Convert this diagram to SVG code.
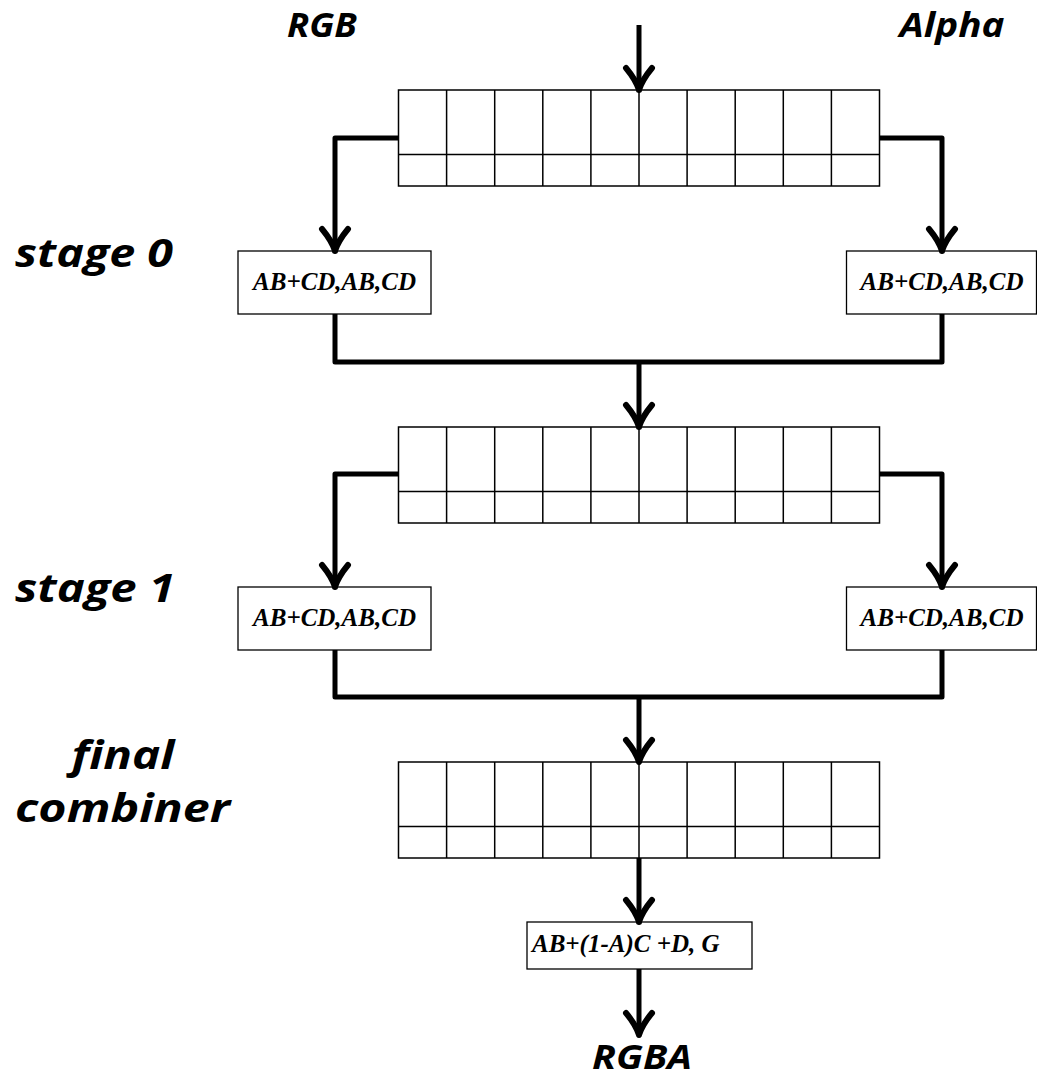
<svg xmlns="http://www.w3.org/2000/svg" width="1037" height="1080" viewBox="0 0 1037 1080">
<style>
.lbl{font-family:"Open Sans","Noto Sans","DejaVu Sans",sans-serif;font-weight:bold;font-style:italic;fill:#000;text-anchor:middle}
.big{font-size:40px}
.mid{font-size:34px}
.ftx{font-family:"Liberation Serif","Times New Roman",serif;font-weight:bold;font-style:italic;font-size:25px;fill:#000}
.box{fill:#fff;stroke:#000;stroke-width:1.3}
.grid{fill:none;stroke:#000;stroke-width:1.5}
.wire{fill:none;stroke:#000;stroke-width:5;stroke-linejoin:round}
.arr{marker-end:url(#head)}
</style>
<defs>
<marker id="head" markerUnits="userSpaceOnUse" viewBox="-28 -18 32 36" refX="0" refY="0" markerWidth="32" markerHeight="36" orient="auto" overflow="visible">
<path d="M-22,-13 Q-10,-3 0,0 M-22,13 Q-10,3 0,0" fill="none" stroke="#000" stroke-width="6" stroke-linecap="round"/>
<path d="M-12,-6 Q-4,-1.5 1,0 Q-4,1.5 -12,6 Z" fill="#000"/>
</marker>
<g id="reg">
<rect class="grid" x="0" y="0" width="481" height="96" fill="#fff"/>
<path class="grid" d="M0,64.5 H481 M48.1,0 V96 M96.2,0 V96 M144.3,0 V96 M192.4,0 V96 M240.5,0 V96 M288.6,0 V96 M336.7,0 V96 M384.8,0 V96 M432.9,0 V96"/>
</g>
</defs>

<g id="labels">
<text class="lbl mid" x="322" y="37" textLength="70" lengthAdjust="spacingAndGlyphs">RGB</text>
<text class="lbl mid" x="952" y="37" textLength="105" lengthAdjust="spacingAndGlyphs">Alpha</text>
<text class="lbl big" x="94" y="267" textLength="158" lengthAdjust="spacingAndGlyphs">stage 0</text>
<text class="lbl big" x="95" y="602" textLength="160" lengthAdjust="spacingAndGlyphs">stage 1</text>
<text class="lbl big" x="123" y="769" textLength="103" lengthAdjust="spacingAndGlyphs">final</text>
<text class="lbl big" x="122.5" y="822" textLength="215" lengthAdjust="spacingAndGlyphs">combiner</text>
<text class="lbl mid" x="642" y="1069" textLength="100" lengthAdjust="spacingAndGlyphs">RGBA</text>
</g>

<g id="register0"><use href="#reg" x="398.5" y="90"/></g>
<g id="register1"><use href="#reg" x="398.5" y="427"/></g>
<g id="register2"><use href="#reg" x="398.5" y="762"/></g>

<g id="stage0-rgb"><rect class="box" x="238" y="251" width="193" height="63"/><text class="ftx" x="334.5" y="290" text-anchor="middle">AB+CD,AB,CD</text></g>
<g id="stage0-alpha"><rect class="box" x="846.5" y="251" width="190" height="63"/><text class="ftx" x="942" y="290" text-anchor="middle">AB+CD,AB,CD</text></g>
<g id="stage1-rgb"><rect class="box" x="238" y="587" width="193" height="63"/><text class="ftx" x="334.5" y="626" text-anchor="middle">AB+CD,AB,CD</text></g>
<g id="stage1-alpha"><rect class="box" x="846.5" y="587" width="190" height="63"/><text class="ftx" x="942" y="626" text-anchor="middle">AB+CD,AB,CD</text></g>
<g id="final"><rect class="box" x="527" y="922" width="225" height="47"/><text class="ftx" x="532" y="952">AB+(1-A)C +D, G</text></g>

<g id="connectors">
<path class="wire arr" d="M639,25 V90"/>
<path class="wire arr" d="M398,138 H335 V251"/>
<path class="wire arr" d="M880,138 H942 V251"/>
<path class="wire" d="M335,314 V362 H942 V314"/>
<path class="wire arr" d="M639,362 V427"/>
<path class="wire arr" d="M398,474 H335 V587"/>
<path class="wire arr" d="M880,474 H942 V587"/>
<path class="wire" d="M335,650 V697 H942 V650"/>
<path class="wire arr" d="M639,697 V762"/>
<path class="wire arr" d="M639,858 V922"/>
<path class="wire arr" d="M639,969 V1035"/>
</g>
</svg>
